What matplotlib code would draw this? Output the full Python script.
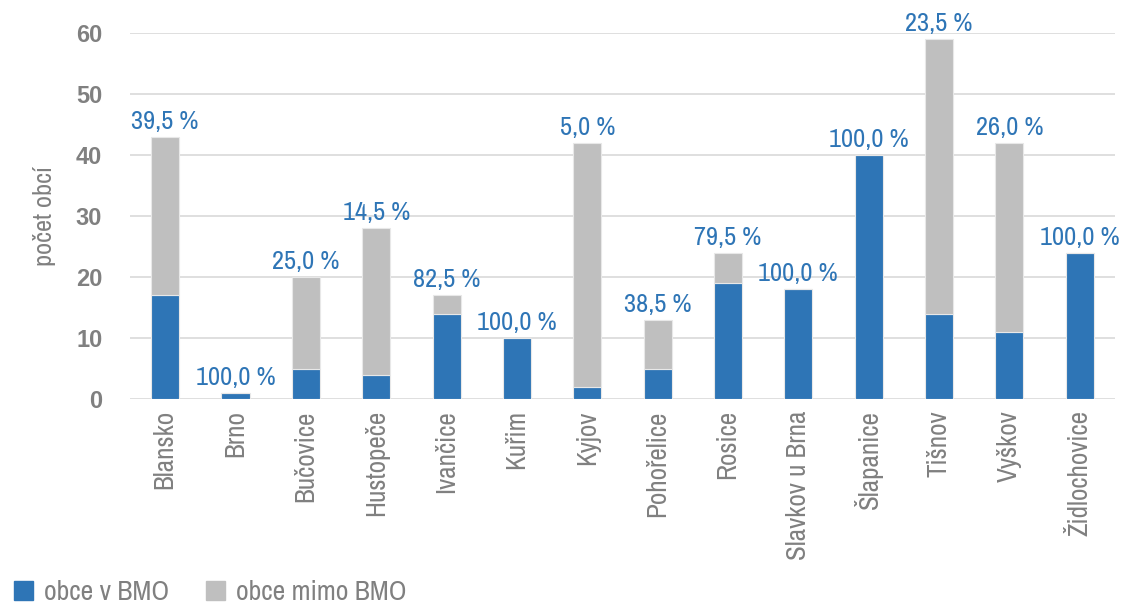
import matplotlib
matplotlib.use("Agg")
import matplotlib.pyplot as plt
from matplotlib.patches import Patch
import numpy as np

plt.rcParams['font.family'] = ['Archivo Narrow', 'DejaVu Sans']

# data
obce = ['Blansko', 'Brno', 'Bučovice', 'Hustopeče', 'Ivančice', 'Kuřim', 'Kyjov',
        'Pohořelice', 'Rosice', 'Slavkov u Brna', 'Šlapanice', 'Tišnov', 'Vyškov',
        'Židlochovice']
v_bmo = [17, 1, 5, 4, 14, 10, 2, 5, 19, 18, 40, 14, 11, 24]
mimo_bmo = [26, 0, 15, 24, 3, 0, 40, 8, 5, 0, 0, 45, 31, 0]
podil = ['39,5 %', '100,0 %', '25,0 %', '14,5 %', '82,5 %', '100,0 %', '5,0 %',
         '38,5 %', '79,5 %', '100,0 %', '100,0 %', '23,5 %', '26,0 %', '100,0 %']

modra = '#2E75B6'
seda = '#BFBFBF'
text_c = '#808080'

fig = plt.figure(figsize=(11.23, 6.13), dpi=100)
ax = fig.add_axes([0.1158, 0.349, 0.877, 0.597])

x = np.arange(len(obce))
ax.bar(x, v_bmo, width=0.4, color=modra, edgecolor='#e8e8e8', linewidth=0.8, zorder=3)
ax.bar(x, mimo_bmo, width=0.4, bottom=v_bmo, color=seda, edgecolor='#e8e8e8',
       linewidth=0.8, zorder=3)

celkem = np.array(v_bmo) + np.array(mimo_bmo)
for i, t in enumerate(podil):
    ax.annotate(t, (x[i], celkem[i]), xytext=(0, 3), textcoords='offset points',
                ha='center', va='bottom', color=modra, fontsize=19, clip_on=False)

ax.set_xlim(-0.5, len(obce) - 0.5)
ax.set_ylim(0, 60)
ax.set_yticks(range(0, 61, 10))
ax.yaxis.grid(True, color='#d9d9d9', linewidth=1.2)
ax.set_axisbelow(True)
for s in ax.spines.values():
    s.set_visible(False)
ax.tick_params(length=0)
ax.tick_params(axis='y', labelsize=17, labelcolor=text_c, pad=20)
for lab in ax.get_yticklabels():
    lab.set_fontweight('bold')
    lab.set_family(['Liberation Sans', 'DejaVu Sans'])
ax.set_xticks(x)
ax.set_xticklabels(obce, rotation=90, fontsize=19.5, color=text_c)
ax.tick_params(axis='x', pad=8)
ax.set_ylabel('počet obcí', fontsize=19, color=text_c, labelpad=14)

handles = [Patch(color=modra, label='obce v BMO'), Patch(color=seda, label='obce mimo BMO')]
fig.legend(handles=handles, loc='lower left', bbox_to_anchor=(-0.01, -0.028), ncol=2,
           frameon=False, fontsize=20, labelcolor=text_c, handlelength=0.7,
           handleheight=0.7, handletextpad=0.4, columnspacing=1.3)

fig.savefig('out.png', dpi=100)
